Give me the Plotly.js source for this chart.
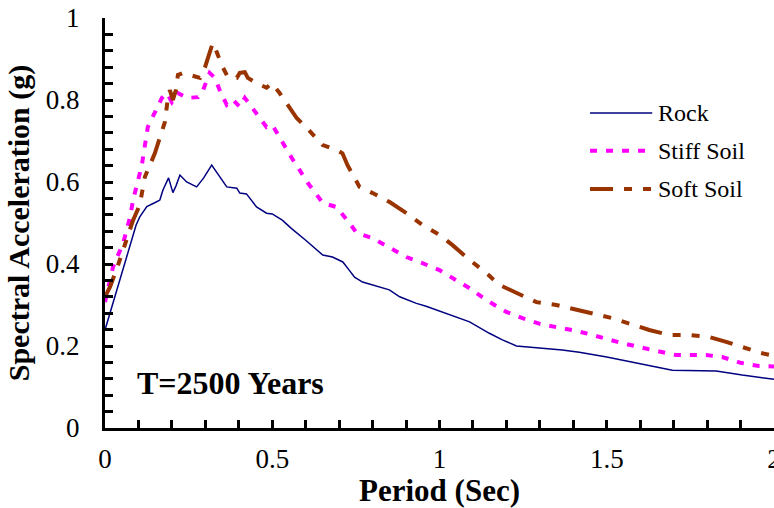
<!DOCTYPE html>
<html>
<head>
<meta charset="utf-8">
<script src="https://cdn.plot.ly/plotly-3.0.1.min.js"></script>
<style>
  html, body { margin: 0; padding: 0; background: #ffffff; }
  #chart { width: 774px; height: 508px; }
</style>
</head>
<body>
<div id="chart"></div>
<script>
// Uniform hazard response spectra (5% damping), return period 2500 years
const seriesNames = ["Rock", "Stiff Soil", "Soft Soil"];

const rockPeriod = [0, 0.093, 0.104, 0.125, 0.15, 0.164, 0.173, 0.19, 0.203, 0.212, 0.224, 0.244, 0.274, 0.295, 0.319, 0.34, 0.364, 0.394, 0.403, 0.423, 0.453, 0.483, 0.50, 0.53, 0.557, 0.60, 0.651, 0.68, 0.711, 0.73, 0.746, 0.77, 0.821, 0.85, 0.881, 0.931, 0.96, 1.02, 1.09, 1.149, 1.188, 1.23, 1.29, 1.367, 1.418, 1.5, 1.696, 1.827, 1.905, 2.0];
const rockSa = [0.239, 0.495, 0.515, 0.54, 0.55, 0.556, 0.58, 0.61, 0.574, 0.59, 0.617, 0.60, 0.588, 0.61, 0.641, 0.615, 0.588, 0.585, 0.573, 0.571, 0.539, 0.524, 0.522, 0.507, 0.487, 0.458, 0.422, 0.417, 0.405, 0.385, 0.368, 0.356, 0.344, 0.337, 0.32, 0.304, 0.297, 0.28, 0.259, 0.231, 0.215, 0.20, 0.196, 0.19, 0.185, 0.173, 0.141, 0.139, 0.129, 0.119];

const stiffPeriod = [0, 0.024, 0.054, 0.075, 0.084, 0.11, 0.128, 0.149, 0.17, 0.185, 0.2, 0.218, 0.245, 0.278, 0.293, 0.313, 0.328, 0.343, 0.364, 0.383, 0.403, 0.418, 0.442, 0.463, 0.483, 0.50, 0.528, 0.558, 0.582, 0.606, 0.651, 0.692, 0.731, 0.752, 0.80, 0.851, 0.901, 0.949, 1.0, 1.045, 1.09, 1.14, 1.2, 1.248, 1.3, 1.349, 1.409, 1.457, 1.546, 1.648, 1.707, 1.797, 1.845, 1.9, 1.955, 2.0];
const stiffSa = [0.307, 0.393, 0.45, 0.515, 0.556, 0.641, 0.734, 0.768, 0.805, 0.817, 0.795, 0.817, 0.805, 0.807, 0.824, 0.866, 0.854, 0.824, 0.788, 0.80, 0.783, 0.805, 0.78, 0.756, 0.734, 0.739, 0.698, 0.659, 0.629, 0.598, 0.549, 0.539, 0.50, 0.476, 0.463, 0.441, 0.417, 0.402, 0.385, 0.363, 0.341, 0.312, 0.283, 0.268, 0.254, 0.246, 0.237, 0.227, 0.207, 0.188, 0.178, 0.178, 0.173, 0.159, 0.151, 0.150];

const softPeriod = [0, 0.015, 0.036, 0.06, 0.084, 0.104, 0.119, 0.149, 0.17, 0.179, 0.188, 0.194, 0.203, 0.212, 0.218, 0.233, 0.254, 0.284, 0.299, 0.313, 0.322, 0.334, 0.349, 0.367, 0.394, 0.403, 0.418, 0.427, 0.453, 0.483, 0.499, 0.522, 0.543, 0.573, 0.603, 0.627, 0.651, 0.692, 0.71, 0.725, 0.761, 0.80, 0.851, 0.901, 0.949, 1.0, 1.039, 1.09, 1.14, 1.179, 1.23, 1.29, 1.349, 1.409, 1.448, 1.516, 1.627, 1.687, 1.746, 1.806, 1.857, 1.905, 1.961, 2.0];
const softSa = [0.32, 0.344, 0.39, 0.45, 0.507, 0.544, 0.612, 0.67, 0.72, 0.746, 0.805, 0.824, 0.80, 0.824, 0.861, 0.866, 0.861, 0.854, 0.88, 0.915, 0.939, 0.917, 0.885, 0.856, 0.854, 0.866, 0.868, 0.854, 0.841, 0.83, 0.841, 0.817, 0.793, 0.756, 0.732, 0.71, 0.69, 0.678, 0.67, 0.641, 0.588, 0.573, 0.551, 0.524, 0.495, 0.471, 0.446, 0.41, 0.378, 0.349, 0.329, 0.307, 0.30, 0.288, 0.28, 0.268, 0.239, 0.227, 0.227, 0.222, 0.21, 0.198, 0.183, 0.176];

const chartLabel = "T=2500 Years";
const xTitle = "Period (Sec)";
const yTitle = "Spectral Acceleration (g)";

// line styles per series
const styles = [
  { color: "#000080", width: 1.5, dash: "solid" },
  { color: "#FF00FF", width: 4, dash: "7px,9px" },
  { color: "#993300", width: 4, dash: "23px,11px,8px,11px,8px,11px" }
];

const periods = [rockPeriod, stiffPeriod, softPeriod];
const values = [rockSa, stiffSa, softSa];

const traces = seriesNames.map((name, i) => ({
  type: "scatter",
  mode: "lines",
  name: name,
  x: periods[i],
  y: values[i],
  line: { color: styles[i].color, width: styles[i].width, dash: styles[i].dash },
  hoverinfo: "x+y+name"
}));

const serif = "Liberation Serif";

// hand-placed key in the upper right of the plot
const keyRowsY = [0.768, 0.676, 0.583];
const shapes = seriesNames.map((name, i) => ({
  type: "line", xref: "paper", yref: "paper",
  x0: 0.725, x1: 0.818, y0: keyRowsY[i], y1: keyRowsY[i],
  line: { color: styles[i].color, width: styles[i].width, dash: styles[i].dash }
}));
const annotations = seriesNames.map((name, i) => ({
  xref: "paper", yref: "paper", x: 0.824, y: keyRowsY[i],
  xanchor: "left", yanchor: "middle", showarrow: false,
  text: name, font: { family: serif, size: 24, color: "#000" }
}));
annotations.push({
  xref: "paper", yref: "paper", x: 0.187, y: 0.11,
  xanchor: "center", yanchor: "middle", showarrow: false,
  text: "<b>" + chartLabel + "</b>",
  font: { family: serif, size: 32, color: "#000" }
});

const axisCommon = {
  showgrid: false, zeroline: false,
  showline: true, linecolor: "#000", linewidth: 3,
  ticks: "inside", ticklen: 8, tickwidth: 2.5, tickcolor: "#000",
  tickfont: { family: serif, size: 27, color: "#000" },
  ticklabeloverflow: "allow",
  fixedrange: true
};

const layout = {
  width: 774, height: 508,
  font: { family: serif, color: "#000" },
  margin: { l: 105, r: 0, t: 18, b: 80 },
  paper_bgcolor: "#ffffff", plot_bgcolor: "#ffffff",
  showlegend: false,
  xaxis: Object.assign({}, axisCommon, {
    range: [0, 2], dtick: 0.5, tick0: 0,
    ticklabelstandoff: 5,
    minor: { dtick: 0.1, ticks: "inside", ticklen: 8, tickwidth: 2.5, tickcolor: "#000" },
    title: { text: "<b>" + xTitle + "</b>", font: { family: serif, size: 31, color: "#000" }, standoff: 0 }
  }),
  yaxis: Object.assign({}, axisCommon, {
    range: [0, 1], dtick: 0.2, tick0: 0,
    ticklabelstandoff: 17,
    minor: { dtick: 0.04, ticks: "inside", ticklen: 8, tickwidth: 2.5, tickcolor: "#000" },
    title: { text: "<b>" + yTitle + "</b>", font: { family: serif, size: 30, color: "#000" }, standoff: 8 }
  }),
  shapes: shapes,
  annotations: annotations
};

Plotly.newPlot("chart", traces, layout, { displayModeBar: false });
</script>
</body>
</html>
